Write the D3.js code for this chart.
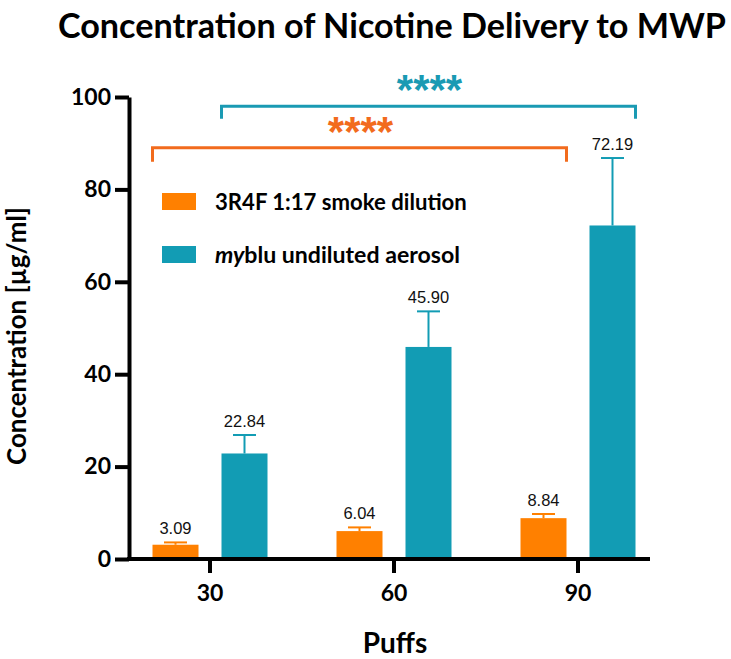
<!DOCTYPE html>
<html>
<head>
<meta charset="utf-8">
<script src="https://cdn.jsdelivr.net/npm/d3@7"></script>
<style>
  html, body { margin: 0; padding: 0; background: #fff; }
  svg { display: block; }
  .calib { font-family: Lato, "Open Sans", sans-serif; font-weight: 700; }
  .arial { font-family: "Liberation Sans", Arial, sans-serif; }
</style>
</head>
<body>
<svg id="chart" width="731" height="659"></svg>
<script>
// ---- data ----
const categories = ["30", "60", "90"];
const seriesNames = ["3R4F 1:17 smoke dilution", "myblu undiluted aerosol"];
const smokeMeans = [3.09, 6.04, 8.84];
const smokeSD = [0.5, 0.8, 0.9];
const aerosolMeans = [22.84, 45.90, 72.19];
const aerosolSD = [4.0, 7.7, 14.6];
const yTicks = [0, 20, 40, 60, 80, 100];
const sigLabels = ["****", "****"];
const titleText = "Concentration of Nicotine Delivery to MWP";
const yLabel = "Concentration [µg/ml]";
const xLabel = "Puffs";

const colors = ["#FF8000", "#129CB4"];
const bracketColors = ["#F26B1D", "#1A9AB3"];

const svg = d3.select("#chart");

// scale a text's font-size so that it spans the given width
function fitWidth(sel, target) {
  const fs = +sel.attr("font-size");
  const w = sel.node().getComputedTextLength();
  if (w > 0) sel.attr("font-size", (fs * target / w).toFixed(2));
  return sel;
}

const y = d3.scaleLinear().domain([0, 100]).range([559, 97]);
const x0 = d3.scaleBand().domain(categories).range([118, 670]).padding(0);
const x1 = d3.scaleBand().domain([0, 1]).range([34.5, 149.5]).paddingInner(1/3).paddingOuter(0);

const series = [
  { means: smokeMeans, sd: smokeSD },
  { means: aerosolMeans, sd: aerosolSD }
];

// Title
const title = svg.append("text").attr("class", "calib")
  .attr("x", 392).attr("y", 38).attr("text-anchor", "middle")
  .attr("font-size", 34).attr("fill", "#000").text(titleText);
fitWidth(title, 668);

// Bars
const bw = x1.bandwidth();
series.forEach((s, si) => {
  const g = svg.append("g");
  categories.forEach((c, ci) => {
    const bx = x0(c) + x1(si);
    const v = s.means[ci];
    g.append("rect")
      .attr("x", bx).attr("y", y(v))
      .attr("width", bw).attr("height", y(0) - y(v))
      .attr("fill", colors[si]);
    const cx = bx + bw / 2;
    const top = y(v + s.sd[ci]);
    g.append("line").attr("x1", cx).attr("x2", cx)
      .attr("y1", y(v)).attr("y2", top)
      .attr("stroke", colors[si]).attr("stroke-width", 2);
    g.append("line").attr("x1", cx - bw / 4).attr("x2", cx + bw / 4)
      .attr("y1", top).attr("y2", top)
      .attr("stroke", colors[si]).attr("stroke-width", 2);
    g.append("text").attr("class", "arial")
      .attr("x", cx).attr("y", top - 8)
      .attr("text-anchor", "middle").attr("font-size", 16.5)
      .attr("fill", "#111").text(v.toFixed(2));
  });
});

// Y axis
const yAxis = d3.axisLeft(y).tickValues(yTicks).tickSize(14).tickSizeOuter(0).tickPadding(4);
const gy = svg.append("g").attr("transform", "translate(129,0)").call(yAxis);
gy.select(".domain").attr("stroke", "#000").attr("stroke-width", 4);
gy.selectAll(".tick line").attr("stroke", "#000").attr("stroke-width", 4);
gy.selectAll(".tick text").attr("class", "calib").attr("font-size", 23).attr("fill", "#000");

// X axis
const xAxis = d3.axisBottom(x0).tickSize(14).tickSizeOuter(0).tickPadding(12);
const gx = svg.append("g").attr("transform", "translate(0,559)").call(xAxis);
gx.select(".domain").remove();
gx.append("line").attr("x1", 127).attr("x2", 650).attr("y1", 0).attr("y2", 0)
  .attr("stroke", "#000").attr("stroke-width", 4);
gx.selectAll(".tick line").attr("stroke", "#000").attr("stroke-width", 4);
gx.selectAll(".tick text").attr("class", "calib").attr("font-size", 23).attr("fill", "#000");

// Axis titles
const yl = svg.append("text").attr("class", "calib")
  .attr("transform", "translate(26,336) rotate(-90)")
  .attr("text-anchor", "middle").attr("font-size", 22).attr("fill", "#000").text(yLabel);
fitWidth(yl, 258);
svg.append("text").attr("class", "calib")
  .attr("x", 395).attr("y", 653).attr("text-anchor", "middle")
  .attr("font-size", 28).attr("fill", "#000").text(xLabel);

// Legend
const legY = [193, 246];
const legW = [252, 245];
series.forEach((s, si) => {
  svg.append("rect").attr("x", 162).attr("y", legY[si]).attr("width", 34).attr("height", 17)
    .attr("fill", colors[si]);
  const t = svg.append("text").attr("class", "calib")
    .attr("x", 215).attr("y", legY[si] + 17).attr("font-size", 22).attr("fill", "#000");
  if (si === 1) {
    t.append("tspan").attr("font-style", "italic").text(seriesNames[1].slice(0, 2));
    t.append("tspan").text(seriesNames[1].slice(2));
  } else {
    t.text(seriesNames[0]);
  }
  fitWidth(t, legW[si]);
});

// Significance brackets
const brackets = [
  { si: 0, yLine: 89, yLeg: 86 },
  { si: 1, yLine: 98, yLeg: 95.3 }
];
brackets.forEach((b, i) => {
  const left = x0(categories[0]) + x1(b.si);
  const right = x0(categories[2]) + x1(b.si) + bw;
  const path = d3.path();
  path.moveTo(left, y(b.yLeg));
  path.lineTo(left, y(b.yLine));
  path.lineTo(right, y(b.yLine));
  path.lineTo(right, y(b.yLeg));
  svg.append("path").attr("d", path.toString()).attr("fill", "none")
    .attr("stroke", bracketColors[b.si]).attr("stroke-width", 3);
  svg.append("text").attr("class", "arial")
    .attr("x", (left + right) / 2 + 1).attr("y", y(b.yLine) - 2)
    .attr("text-anchor", "middle").attr("font-size", 42).attr("font-weight", 700)
    .attr("fill", bracketColors[b.si]).text(sigLabels[i]);
});
</script>
</body>
</html>
